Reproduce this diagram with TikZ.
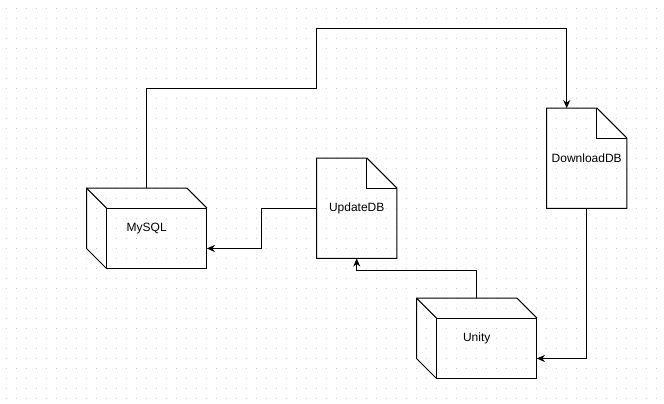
\documentclass[tikz,border=0pt]{standalone}
\usepackage{fontspec}
\setmainfont{Liberation Sans}
\usetikzlibrary{calc,arrows.meta}
\tikzset{
  box3d/.style={minimum width=120pt,minimum height=80pt,inner sep=0pt,draw=none,font=\fontsize{12}{14}\selectfont},
  docshape/.style={minimum width=80pt,minimum height=100pt,inner sep=0pt,draw=none,font=\fontsize{12}{14}\selectfont},
  outline/.style={draw=black,line width=1pt,line join=miter},
  conn/.style={draw=black,line width=1pt,-{Stealth[length=8pt,width=7pt,inset=2.5pt]}},
  griddot/.style={fill=black!20,draw=none}
}
\begin{document}
\begin{tikzpicture}[x=1pt,y=1pt]
\useasboundingbox (0,0) rectangle (664,404);
\fill[white] (0,0) rectangle (664,404);
% grid
\foreach \i in {0,...,65}{
  \foreach \j in {0,...,39}{
    \fill[griddot] ({6.2+10*\i},{395.2-10*\j}) rectangle ++(1.1,1.1);
  }
}
% nodes
\node[box3d] (mysql) at (146.7,175.7) {MySQL};
\node[box3d] (unity) at (476.7,65.7) {Unity};
\node[docshape] (updatedb) at (356.7,195.7) {UpdateDB};
\node[docshape] (downloaddb) at (586.7,245.7) {DownloadDB};
% 3d boxes
\foreach \n in {mysql,unity}{
  \draw[outline] ($(\n.north west)+(20,-20)$) rectangle (\n.south east);
  \draw[outline] ($(\n.south west)+(20,0)$) -- ($(\n.south west)+(0,20)$) -- (\n.north west) -- ($(\n.north east)+(-20,0)$) -- ($(\n.north east)+(0,-20)$);
  \draw[outline] (\n.north west) -- ($(\n.north west)+(20,-20)$);
}
% documents
\foreach \n in {updatedb,downloaddb}{
  \draw[outline] (\n.south west) -- (\n.north west) -- ($(\n.north east)+(-30,0)$) -- ($(\n.north east)+(0,-30)$) -- (\n.south east) -- cycle;
  \draw[outline] ($(\n.north east)+(-30,0)$) -- ($(\n.north east)+(-30,-30)$) -- ($(\n.north east)+(0,-30)$);
}
% connectors
\coordinate (dlin) at ($(downloaddb.north)+(-20,0)$);
\draw[conn] (mysql.north) -- (146.7,315.7) -- (316.7,315.7) -- (316.7,375.7) -| (dlin);
\draw[conn] (updatedb.west) -- ++(-55,0) |- ($(mysql.south east)+(0,20)$);
\draw[conn] (unity.north) -- ++(0,27.5) -| (updatedb.south);
\draw[conn] (downloaddb.south) |- ($(unity.south east)+(0,20)$);
\end{tikzpicture}
\end{document}
